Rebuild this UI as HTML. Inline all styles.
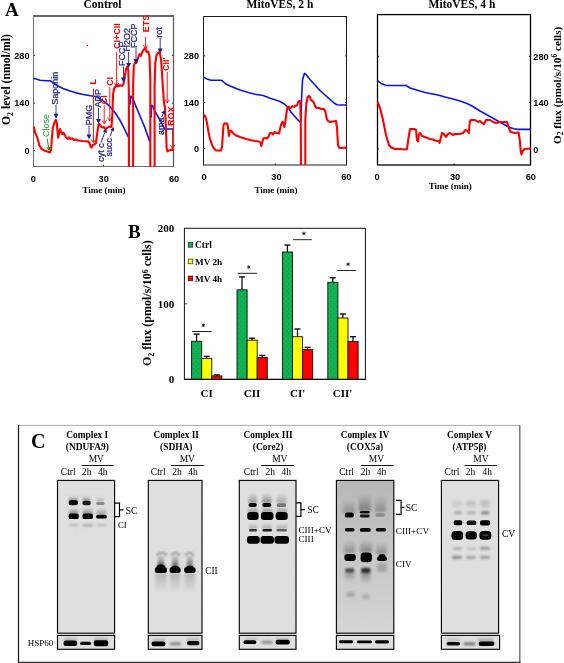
<!DOCTYPE html><html><head><meta charset="utf-8"><style>html,body{margin:0;padding:0;background:#fff;}svg{display:block;will-change:transform;}</style></head><body>
<svg width="564" height="663" viewBox="0 0 564 663">
<defs>
<filter id="b1" x="-50%" y="-100%" width="200%" height="300%"><feGaussianBlur stdDeviation="0.9"/></filter>
<filter id="b2" x="-50%" y="-100%" width="200%" height="300%"><feGaussianBlur stdDeviation="1.5"/></filter>
<filter id="b3" x="-50%" y="-100%" width="200%" height="300%"><feGaussianBlur stdDeviation="2.5"/></filter>
<pattern id="dots" width="5" height="5" patternUnits="userSpaceOnUse"><rect width="5" height="5" fill="#10b252"/><circle cx="1.2" cy="1.2" r="0.45" fill="#0a7035"/><circle cx="3.7" cy="3.7" r="0.45" fill="#0a7035"/></pattern>
<linearGradient id="g4" x1="0" y1="0" x2="0" y2="1"><stop offset="0" stop-color="#b4b4b4"/><stop offset="0.2" stop-color="#bababa"/><stop offset="0.5" stop-color="#c6c6c6"/><stop offset="1" stop-color="#d4d4d4"/></linearGradient>
</defs>
<rect x="0" y="0" width="564" height="663" fill="#fff" stroke="none" stroke-width="1" />
<text x="5" y="15.5" font-family='"Liberation Serif", serif' font-size="19" font-weight="bold" text-anchor="start" fill="#000" >A</text>
<text x="102.5" y="8" font-family='"Liberation Serif", serif' font-size="11.5" font-weight="bold" text-anchor="middle" fill="#000" >Control</text>
<text x="280" y="8" font-family='"Liberation Serif", serif' font-size="11.5" font-weight="bold" text-anchor="middle" fill="#000" >MitoVES, 2 h</text>
<text x="462" y="8" font-family='"Liberation Serif", serif' font-size="11.5" font-weight="bold" text-anchor="middle" fill="#000" >MitoVES, 4 h</text>
<rect x="33.5" y="16" width="140.0" height="150.5" fill="none" stroke="#707070" stroke-width="1" />
<line x1="33" y1="16" x2="174" y2="16" stroke="#6a6a6a" stroke-width="2" />
<line x1="173.5" y1="16" x2="173.5" y2="167" stroke="#606060" stroke-width="1.3" />
<rect x="203.5" y="16.5" width="143.0" height="148.5" fill="none" stroke="#1a1a1a" stroke-width="1" />
<rect x="377.5" y="14.6" width="153.0" height="150.4" fill="none" stroke="#000" stroke-width="1.3" />
<line x1="33.5" y1="150.5" x2="35.0" y2="150.5" stroke="#000" stroke-width="0.8" />
<line x1="171.8" y1="150.5" x2="173.3" y2="150.5" stroke="#000" stroke-width="0.8" />
<line x1="33.5" y1="103.1" x2="35.0" y2="103.1" stroke="#000" stroke-width="0.8" />
<line x1="171.8" y1="103.1" x2="173.3" y2="103.1" stroke="#000" stroke-width="0.8" />
<line x1="33.5" y1="55.3" x2="35.0" y2="55.3" stroke="#000" stroke-width="0.8" />
<line x1="171.8" y1="55.3" x2="173.3" y2="55.3" stroke="#000" stroke-width="0.8" />
<line x1="203.8" y1="148.6" x2="205.3" y2="148.6" stroke="#000" stroke-width="0.8" />
<line x1="345.0" y1="148.6" x2="346.5" y2="148.6" stroke="#000" stroke-width="0.8" />
<line x1="203.8" y1="102.4" x2="205.3" y2="102.4" stroke="#000" stroke-width="0.8" />
<line x1="345.0" y1="102.4" x2="346.5" y2="102.4" stroke="#000" stroke-width="0.8" />
<line x1="203.8" y1="55.9" x2="205.3" y2="55.9" stroke="#000" stroke-width="0.8" />
<line x1="345.0" y1="55.9" x2="346.5" y2="55.9" stroke="#000" stroke-width="0.8" />
<line x1="377.6" y1="148.8" x2="379.1" y2="148.8" stroke="#000" stroke-width="0.8" />
<line x1="528.9" y1="148.8" x2="530.4" y2="148.8" stroke="#000" stroke-width="0.8" />
<line x1="377.6" y1="102.3" x2="379.1" y2="102.3" stroke="#000" stroke-width="0.8" />
<line x1="528.9" y1="102.3" x2="530.4" y2="102.3" stroke="#000" stroke-width="0.8" />
<line x1="377.6" y1="56.3" x2="379.1" y2="56.3" stroke="#000" stroke-width="0.8" />
<line x1="528.9" y1="56.3" x2="530.4" y2="56.3" stroke="#000" stroke-width="0.8" />
<line x1="103.4" y1="164.70000000000002" x2="103.4" y2="166.3" stroke="#000" stroke-width="0.8" />
<line x1="275.2" y1="163.4" x2="275.2" y2="165" stroke="#000" stroke-width="0.8" />
<line x1="454" y1="163.4" x2="454" y2="165" stroke="#000" stroke-width="0.8" />
<text x="29.6" y="58.599999999999994" font-family='"Liberation Sans", sans-serif' font-size="9.2" font-weight="bold" text-anchor="end" fill="#000" >280</text>
<text x="29.6" y="106.39999999999999" font-family='"Liberation Sans", sans-serif' font-size="9.2" font-weight="bold" text-anchor="end" fill="#000" >140</text>
<text x="29.6" y="153.8" font-family='"Liberation Sans", sans-serif' font-size="9.2" font-weight="bold" text-anchor="end" fill="#000" >0</text>
<text x="199" y="59.199999999999996" font-family='"Liberation Sans", sans-serif' font-size="9.2" font-weight="bold" text-anchor="end" fill="#000" >280</text>
<text x="199" y="105.7" font-family='"Liberation Sans", sans-serif' font-size="9.2" font-weight="bold" text-anchor="end" fill="#000" >140</text>
<text x="199" y="151.9" font-family='"Liberation Sans", sans-serif' font-size="9.2" font-weight="bold" text-anchor="end" fill="#000" >0</text>
<text x="533.3" y="60.4" font-family='"Liberation Sans", sans-serif' font-size="9.2" font-weight="bold" text-anchor="start" fill="#000" >280</text>
<text x="533.3" y="106.39999999999999" font-family='"Liberation Sans", sans-serif' font-size="9.2" font-weight="bold" text-anchor="start" fill="#000" >140</text>
<text x="533.3" y="153.0" font-family='"Liberation Sans", sans-serif' font-size="9.2" font-weight="bold" text-anchor="start" fill="#000" >0</text>
<text x="33.3" y="181.9" font-family='"Liberation Sans", sans-serif' font-size="9.2" font-weight="bold" text-anchor="middle" fill="#000" >0</text>
<text x="103.7" y="181.9" font-family='"Liberation Sans", sans-serif' font-size="9.2" font-weight="bold" text-anchor="middle" fill="#000" >30</text>
<text x="174" y="181.9" font-family='"Liberation Sans", sans-serif' font-size="9.2" font-weight="bold" text-anchor="middle" fill="#000" >60</text>
<text x="204" y="179.9" font-family='"Liberation Sans", sans-serif' font-size="9.2" font-weight="bold" text-anchor="middle" fill="#000" >0</text>
<text x="276.4" y="179.9" font-family='"Liberation Sans", sans-serif' font-size="9.2" font-weight="bold" text-anchor="middle" fill="#000" >30</text>
<text x="346.3" y="179.9" font-family='"Liberation Sans", sans-serif' font-size="9.2" font-weight="bold" text-anchor="middle" fill="#000" >60</text>
<text x="377" y="179.8" font-family='"Liberation Sans", sans-serif' font-size="9.2" font-weight="bold" text-anchor="middle" fill="#000" >0</text>
<text x="455.1" y="179.8" font-family='"Liberation Sans", sans-serif' font-size="9.2" font-weight="bold" text-anchor="middle" fill="#000" >30</text>
<text x="530.8" y="179.8" font-family='"Liberation Sans", sans-serif' font-size="9.2" font-weight="bold" text-anchor="middle" fill="#000" >60</text>
<text x="104" y="192.5" font-family='"Liberation Serif", serif' font-size="9" font-weight="bold" text-anchor="middle" fill="#000" >Time (min)</text>
<text x="276" y="192.5" font-family='"Liberation Serif", serif' font-size="9" font-weight="bold" text-anchor="middle" fill="#000" >Time (min)</text>
<text x="450.2" y="189" font-family='"Liberation Serif", serif' font-size="9" font-weight="bold" text-anchor="middle" fill="#000" >Time (min)</text>
<text transform="translate(10.2,125) rotate(-90)" font-family='"Liberation Serif", serif' font-size="11.7" font-weight="bold">O<tspan font-size="7.8" dy="2.6">2</tspan><tspan dy="-2.6"> level (nmol/ml)</tspan></text>
<text transform="translate(560.6,144) rotate(-90)" font-family='"Liberation Serif", serif' font-size="11.2" font-weight="bold">O<tspan font-size="7.5" dy="2.6">2</tspan><tspan dy="-2.6"> flux (pmol/s/10</tspan><tspan font-size="7.5" dy="-3.4">6</tspan><tspan dy="3.4"> cells)</tspan></text>
<svg x="33.5" y="16" width="140" height="150.3" viewBox="33.5 16 140 150.3" overflow="hidden">
<polyline points="33.5,78.3 40.0,80.3 46.0,80.8 50.5,80.8 53.0,83.0 57.0,85.5 63.0,88.5 70.0,91.0 75.3,92.6 82.0,94.2 90.4,95.8 96.0,96.5 100.0,98.8 105.0,102.2 110.0,106.7 115.0,112.5 120.0,120.3 124.0,128.0 128.2,136.6" fill="none" stroke="#0a14f0" stroke-width="1.6" stroke-linejoin="round" stroke-linecap="round" />
<polyline points="130.4,104.0 130.6,96.3 131.8,96.6 133.3,100.0 135.0,104.0 140.0,116.0 145.0,128.0 149.6,141.2" fill="none" stroke="#0a14f0" stroke-width="1.6" stroke-linejoin="round" stroke-linecap="round" />
<polyline points="151.2,117.0 151.5,105.4 152.5,105.6 155.0,111.5 160.0,120.0 164.6,129.0 172.8,129.0" fill="none" stroke="#0a14f0" stroke-width="1.6" stroke-linejoin="round" stroke-linecap="round" />
<polyline points="34.0,127.4 35.1,132.7 37.3,137.7 39.4,145.5 41.5,149.0 44.3,150.4 47.2,151.5 50.0,152.4 51.1,149.7 51.8,138.4 52.9,127.7 54.3,122.8 55.8,119.9 56.8,122.8 57.5,131.3 58.2,137.7 59.1,133.4 60.0,129.1 61.0,132.0 62.2,134.1 63.5,132.7 64.9,135.5 66.3,137.7 67.8,139.1 69.2,137.3 70.6,139.1 72.4,138.4 74.0,140.0 76.0,139.5 78.0,140.5 82.0,141.0 88.0,141.5 89.5,143.0 90.5,146.5 91.5,147.5 93.0,145.0 95.0,144.0 96.0,143.0 97.0,135.0 98.5,124.5 99.5,124.0 101.0,126.5 102.5,127.5 104.0,127.0 105.5,129.5 107.0,128.0 108.5,127.0 110.0,126.5 111.5,127.0 112.5,112.0 113.0,95.0 114.0,88.5 115.5,86.5 117.0,84.5 118.0,86.5 120.0,85.3 122.0,86.0 123.5,84.0 124.8,76.0 126.0,69.0 127.3,66.7 128.3,70.0 128.9,95.0 128.9,170.0" fill="none" stroke="#ff0000" stroke-width="2.1" stroke-linejoin="round" stroke-linecap="round" />
<polyline points="133.1,170.0 133.1,85.0 133.8,66.0 135.0,62.5 136.5,62.8 138.0,58.0 139.5,54.0 140.8,56.0 142.3,52.0 143.8,49.5 145.3,48.0 146.5,52.0 148.0,51.5 149.5,56.0 150.3,80.0 150.3,170.0" fill="none" stroke="#ff0000" stroke-width="2.1" stroke-linejoin="round" stroke-linecap="round" />
<polyline points="154.6,170.0 154.6,85.0 155.3,63.0 156.5,55.0 158.4,52.4 160.0,53.5 161.0,59.0 162.0,73.0 163.0,90.0 164.0,103.0 165.0,108.0 165.8,125.0 166.6,148.0 167.5,151.5 169.0,150.5 173.0,149.5" fill="none" stroke="#ff0000" stroke-width="2.1" stroke-linejoin="round" stroke-linecap="round" />
</svg>
<rect x="87" y="45" width="1" height="1.3" fill="#f00"/>
<text x="49.3" y="137" font-family='"Liberation Sans", sans-serif' font-size="9" font-weight="normal" text-anchor="start" fill="#1a9a1a" transform="rotate(-90 49.3 137)" >Close</text>
<line x1="47.1" y1="138.6" x2="48.616021568267485" y2="147.16881755977275" stroke="#1a9a1a" stroke-width="1" />
<polygon points="46.25,147.59 50.98,146.75 49.4,151.6" fill="#1a9a1a"/>
<text x="58.3" y="104.8" font-family='"Liberation Sans", sans-serif' font-size="9" font-weight="normal" text-anchor="start" fill="#1e1e8a" transform="rotate(-90 58.3 104.8)" stroke="#1e1e8a" stroke-width="0.25">Saponin</text>
<line x1="56" y1="105" x2="56" y2="114.19999999999999" stroke="#1e1e8a" stroke-width="0.85" />
<polygon points="53.5,113.69999999999999 58.5,113.69999999999999 56,118.6" fill="#1e1e8a"/>
<text x="92.2" y="125.2" font-family='"Liberation Sans", sans-serif' font-size="9" font-weight="normal" text-anchor="start" fill="#1e1e8a" transform="rotate(-90 92.2 125.2)" stroke="#1e1e8a" stroke-width="0.25">PMG</text>
<line x1="89" y1="125.5" x2="89" y2="135.1" stroke="#1e1e8a" stroke-width="0.85" />
<polygon points="86.5,134.6 91.5,134.6 89,139.5" fill="#1e1e8a"/>
<text x="95.6" y="84.5" font-family='"Liberation Sans", sans-serif' font-size="9" font-weight="bold" text-anchor="start" fill="#ff0000" transform="rotate(-90 95.6 84.5)" >L</text>
<line x1="93.5" y1="88.6" x2="93.5" y2="142.8" stroke="#ff0000" stroke-width="0.9" />
<polyline points="91.3,139.3 93.5,142.8 95.7,139.3" fill="none" stroke="#ff0000" stroke-width="0.9"/>
<text x="101" y="107.6" font-family='"Liberation Sans", sans-serif' font-size="9" font-weight="normal" text-anchor="start" fill="#1e1e8a" transform="rotate(-90 101 107.6)" stroke="#1e1e8a" stroke-width="0.25">ADP</text>
<line x1="98.5" y1="108" x2="98.5" y2="119.39999999999999" stroke="#1e1e8a" stroke-width="0.85" />
<polygon points="96.0,118.89999999999999 101.0,118.89999999999999 98.5,123.8" fill="#1e1e8a"/>
<text x="107.1" y="104.2" font-family='"Liberation Sans", sans-serif' font-size="9" font-weight="bold" text-anchor="start" fill="#ff0000" transform="rotate(-90 107.1 104.2)" >CI</text>
<line x1="104.2" y1="105" x2="104.2" y2="123.8" stroke="#ff0000" stroke-width="0.9" />
<polyline points="102.0,120.3 104.2,123.8 106.4,120.3" fill="none" stroke="#ff0000" stroke-width="0.9"/>
<text x="113.2" y="86" font-family='"Liberation Sans", sans-serif' font-size="9" font-weight="bold" text-anchor="start" fill="#ff0000" transform="rotate(-90 113.2 86)" >CI</text>
<line x1="109.8" y1="87" x2="109.8" y2="121" stroke="#ff0000" stroke-width="0.9" />
<polyline points="107.6,117.5 109.8,121 112.0,117.5" fill="none" stroke="#ff0000" stroke-width="0.9"/>
<text x="103.7" y="161.8" font-family='"Liberation Sans", sans-serif' font-size="9" font-weight="normal" text-anchor="start" fill="#1e1e8a" transform="rotate(-90 103.7 161.8)" stroke="#1e1e8a" stroke-width="0.25">cyt c</text>
<line x1="101" y1="142.5" x2="104.88379989377805" y2="132.24090594096361" stroke="#1e1e8a" stroke-width="1" />
<polygon points="106.94,133.02 102.83,131.46 106.3,128.5" fill="#1e1e8a"/>
<text x="111.9" y="156.4" font-family='"Liberation Sans", sans-serif' font-size="9" font-weight="normal" text-anchor="start" fill="#1e1e8a" transform="rotate(-90 111.9 156.4)" stroke="#1e1e8a" stroke-width="0.25">succ</text>
<line x1="110" y1="136.5" x2="112.18257005654316" y2="130.7404401285667" stroke="#1e1e8a" stroke-width="1" />
<polygon points="114.24,131.52 110.13,129.96 113.6,127" fill="#1e1e8a"/>
<text x="120.2" y="49" font-family='"Liberation Sans", sans-serif' font-size="9" font-weight="bold" text-anchor="start" fill="#ff0000" transform="rotate(-90 120.2 49)" >CI+CII</text>
<line x1="116.6" y1="52" x2="116.6" y2="86.5" stroke="#ff0000" stroke-width="0.9" />
<polyline points="114.39999999999999,83.0 116.6,86.5 118.8,83.0" fill="none" stroke="#ff0000" stroke-width="0.9"/>
<text x="125.3" y="66" font-family='"Liberation Sans", sans-serif' font-size="9" font-weight="normal" text-anchor="start" fill="#1e1e8a" transform="rotate(-90 125.3 66)" stroke="#1e1e8a" stroke-width="0.25">FCCP</text>
<line x1="123.5" y1="66.5" x2="123.5" y2="78.1" stroke="#1e1e8a" stroke-width="0.85" />
<polygon points="121.0,77.6 126.0,77.6 123.5,82.5" fill="#1e1e8a"/>
<text x="130" y="51.6" font-family='"Liberation Sans", sans-serif' font-size="9" font-weight="normal" text-anchor="start" fill="#1e1e8a" transform="rotate(-90 130 51.6)" stroke="#1e1e8a" stroke-width="0.25">H2O2</text>
<line x1="128.6" y1="52" x2="128.6" y2="63.50000000000001" stroke="#1e1e8a" stroke-width="0.85" />
<polygon points="126.1,63.00000000000001 131.1,63.00000000000001 128.6,67.9" fill="#1e1e8a"/>
<text x="137.4" y="47.9" font-family='"Liberation Sans", sans-serif' font-size="9" font-weight="normal" text-anchor="start" fill="#1e1e8a" transform="rotate(-90 137.4 47.9)" stroke="#1e1e8a" stroke-width="0.25">FCCP</text>
<line x1="136" y1="48" x2="136" y2="59.6" stroke="#1e1e8a" stroke-width="0.85" />
<polygon points="133.5,59.1 138.5,59.1 136,64" fill="#1e1e8a"/>
<text x="149.2" y="32.2" font-family='"Liberation Sans", sans-serif' font-size="9" font-weight="bold" text-anchor="start" fill="#ff0000" transform="rotate(-90 149.2 32.2)" >ETS</text>
<line x1="145.6" y1="36.8" x2="145.6" y2="48.8" stroke="#ff0000" stroke-width="0.9" />
<polyline points="143.4,45.3 145.6,48.8 147.79999999999998,45.3" fill="none" stroke="#ff0000" stroke-width="0.9"/>
<text x="162.5" y="37.7" font-family='"Liberation Sans", sans-serif' font-size="9" font-weight="normal" text-anchor="start" fill="#1e1e8a" transform="rotate(-90 162.5 37.7)" stroke="#1e1e8a" stroke-width="0.25">rot</text>
<line x1="160.2" y1="38" x2="160.2" y2="49.0" stroke="#1e1e8a" stroke-width="0.85" />
<polygon points="157.7,48.5 162.7,48.5 160.2,53.4" fill="#1e1e8a"/>
<text x="169" y="71" font-family='"Liberation Sans", sans-serif' font-size="9" font-weight="bold" text-anchor="start" fill="#ff0000" transform="rotate(-90 169 71)" >CII'</text>
<line x1="167.2" y1="72" x2="167.2" y2="103" stroke="#ff0000" stroke-width="0.9" />
<polyline points="165.0,99.5 167.2,103 169.39999999999998,99.5" fill="none" stroke="#ff0000" stroke-width="0.9"/>
<text x="163.5" y="135" font-family='"Liberation Sans", sans-serif' font-size="9" font-weight="normal" text-anchor="start" fill="#1e1e8a" transform="rotate(-90 163.5 135)" stroke="#1e1e8a" stroke-width="0.25">ama</text>
<line x1="161.8" y1="117" x2="163.22432280568333" y2="113.67658012007223" stroke="#1e1e8a" stroke-width="1" />
<polygon points="165.25,114.54 161.20,112.81 164.8,110" fill="#1e1e8a"/>
<text x="173.5" y="126" font-family='"Liberation Sans", sans-serif' font-size="9" font-weight="bold" text-anchor="start" fill="#ff0000" transform="rotate(-90 173.5 126)" >ROX</text>
<line x1="172.5" y1="128" x2="172.5" y2="148.5" stroke="#ff0000" stroke-width="0.9" />
<polyline points="170.3,145.0 172.5,148.5 174.7,145.0" fill="none" stroke="#ff0000" stroke-width="0.9"/>
<svg x="203.8" y="16.3" width="142.7" height="148.7" viewBox="203.8 16.3 142.7 148.7" overflow="hidden">
<polyline points="204.0,77.4 207.0,79.0 211.0,80.2 221.0,80.2 223.0,81.5 226.0,84.0 230.0,86.0 235.0,88.0 240.0,90.0 245.0,91.6 250.0,93.0 255.0,94.2 260.0,95.0 263.0,95.5 267.0,97.0 270.0,98.3 275.0,99.8 280.0,101.5 285.0,104.5 288.0,107.5 291.0,112.0 294.0,115.5 297.0,119.0 300.3,122.2" fill="none" stroke="#0a14f0" stroke-width="1.6" stroke-linejoin="round" stroke-linecap="round" />
<polyline points="300.8,122.0 301.5,100.0 302.5,80.0 304.4,73.3 306.0,74.5 310.0,79.5 315.0,85.0 320.0,90.5 325.0,95.0 330.0,99.3 334.0,103.0 337.0,104.7 340.0,105.0 346.5,105.0" fill="none" stroke="#0a14f0" stroke-width="1.6" stroke-linejoin="round" stroke-linecap="round" />
<polyline points="204.0,115.0 205.5,117.0 207.0,123.0 208.5,132.0 210.0,139.0 212.0,145.0 214.0,148.5 216.0,150.5 218.0,150.5 221.0,150.5 222.0,147.0 222.8,135.0 223.5,125.0 224.5,123.3 226.0,123.5 227.5,124.0 228.3,130.0 229.0,136.0 229.8,131.0 231.0,130.5 232.0,132.0 234.0,134.0 236.0,135.5 240.0,137.0 243.0,138.0 246.0,139.0 250.0,140.0 255.0,141.0 259.0,141.5 260.5,142.5 261.3,146.0 262.3,142.0 263.3,138.5 265.0,138.0 267.0,138.5 268.5,136.5 270.0,133.0 271.5,133.0 273.0,134.5 274.5,132.0 276.5,133.0 279.0,133.5 281.0,125.0 282.5,121.8 283.5,123.0 284.3,127.0 285.3,122.0 286.5,113.0 287.3,107.8 288.5,106.5 289.5,108.3 291.0,107.5 292.5,106.0 294.0,107.0 295.5,105.5 297.0,105.5 298.5,101.5 299.5,100.8 300.3,102.0 300.8,125.0 301.0,170.0" fill="none" stroke="#ff0000" stroke-width="2.1" stroke-linejoin="round" stroke-linecap="round" />
<polyline points="305.3,170.0 305.3,120.0 306.3,104.0 307.5,97.5 308.8,95.8 310.0,97.0 310.8,100.0 312.3,100.7 313.5,102.0 315.0,106.0 316.5,108.0 319.0,108.0 321.0,109.0 324.0,109.0 325.5,112.0 326.5,118.0 328.0,121.0 330.0,122.0 333.0,121.5 336.0,121.0 337.0,128.0 338.0,145.0 339.5,148.0 342.0,148.0 346.5,147.5" fill="none" stroke="#ff0000" stroke-width="2.1" stroke-linejoin="round" stroke-linecap="round" />
</svg>
<svg x="377.6" y="14.8" width="152.8" height="150.2" viewBox="377.6 14.8 152.8 150.2" overflow="hidden">
<polyline points="378.0,81.0 381.0,83.5 385.0,85.0 388.0,85.5 400.0,85.5 406.0,85.5 410.0,88.0 415.0,89.5 420.0,91.0 425.0,92.5 430.0,93.5 438.0,95.0 445.0,97.0 450.0,98.3 455.0,99.5 460.0,101.0 467.0,103.5 472.0,106.0 480.0,111.0 490.0,116.5 497.0,120.5 505.0,125.0 510.0,127.5 514.0,128.8 517.5,129.4 530.5,129.4" fill="none" stroke="#0a14f0" stroke-width="1.6" stroke-linejoin="round" stroke-linecap="round" />
<polyline points="378.0,103.0 380.0,108.0 383.0,120.0 386.0,135.0 389.0,145.0 391.0,147.5 395.0,149.0 400.0,149.0 405.0,149.5 407.0,149.0 408.5,138.0 410.0,129.0 414.0,129.0 416.0,130.0 417.0,140.0 418.0,141.5 419.0,134.0 420.0,133.0 422.0,136.0 426.0,137.5 430.0,139.0 433.0,139.5 435.0,140.5 437.0,141.0 439.0,141.0 439.5,143.0 441.0,137.0 442.0,133.0 444.0,134.0 446.0,137.0 448.0,134.0 450.0,133.0 453.0,135.0 455.0,134.0 460.0,134.0 463.0,133.0 465.5,130.0 467.5,131.0 468.8,133.0 469.8,121.5 471.0,120.0 475.0,120.0 478.0,122.0 480.0,121.0 482.0,123.0 484.0,124.0 486.0,120.0 490.0,120.0 493.0,122.0 496.0,123.0 500.0,122.0 507.0,122.0 508.5,127.0 510.5,132.0 515.0,133.0 518.5,132.5 519.8,140.0 520.6,150.0 521.5,154.5 522.8,151.0 524.5,149.0 530.5,148.5" fill="none" stroke="#ff0000" stroke-width="2.1" stroke-linejoin="round" stroke-linecap="round" />
</svg>
<text x="128" y="237.5" font-family='"Liberation Serif", serif' font-size="19" font-weight="bold" text-anchor="start" fill="#000" >B</text>
<rect x="184.4" y="228.3" width="181" height="151.1" fill="none" stroke="#111" stroke-width="1" />
<line x1="184.4" y1="303.8" x2="187" y2="303.8" stroke="#111" stroke-width="0.8" />
<text x="174.2" y="232.4" font-family='"Liberation Serif", serif' font-size="11" font-weight="bold" text-anchor="end" fill="#000" >200</text>
<text x="174.2" y="308.0" font-family='"Liberation Serif", serif' font-size="11" font-weight="bold" text-anchor="end" fill="#000" >100</text>
<text x="174.2" y="383.40000000000003" font-family='"Liberation Serif", serif' font-size="11" font-weight="bold" text-anchor="end" fill="#000" >0</text>
<text transform="translate(151.3,366) rotate(-90)" font-family='"Liberation Serif", serif' font-size="12" font-weight="bold">O<tspan font-size="8" dy="2.7">2</tspan><tspan dy="-2.7"> flux (pmol/s/10</tspan><tspan font-size="8" dy="-3.6">6</tspan><tspan dy="3.6"> cells)</tspan></text>
<rect x="188.2" y="242.4" width="4.6" height="4.8" fill="#12b050" stroke="#111" stroke-width="0.6" />
<text x="195" y="248.0" font-family='"Liberation Serif", serif' font-size="9.5" font-weight="bold" text-anchor="start" fill="#000" >Ctrl</text>
<rect x="188.2" y="259.0" width="4.6" height="4.8" fill="#ffff00" stroke="#111" stroke-width="0.6" />
<text x="195" y="264.59999999999997" font-family='"Liberation Serif", serif' font-size="9.2" font-weight="bold" text-anchor="start" fill="#000" >MV 2h</text>
<rect x="188.2" y="276.0" width="4.6" height="4.8" fill="#ff0000" stroke="#111" stroke-width="0.6" />
<text x="195" y="281.59999999999997" font-family='"Liberation Serif", serif' font-size="9.2" font-weight="bold" text-anchor="start" fill="#000" >MV 4h</text>
<line x1="196.6" y1="334.1" x2="196.6" y2="341.3" stroke="#111" stroke-width="1.3" />
<line x1="193.6" y1="334.1" x2="199.6" y2="334.1" stroke="#111" stroke-width="1.4" />
<rect x="191.6" y="341.3" width="10.1" height="38.099999999999966" fill="url(#dots)" stroke="#111" stroke-width="0.9" />
<line x1="206.7" y1="356.4" x2="206.7" y2="358.5" stroke="#111" stroke-width="1.3" />
<line x1="203.7" y1="356.4" x2="209.7" y2="356.4" stroke="#111" stroke-width="1.4" />
<rect x="201.7" y="358.5" width="10.1" height="20.899999999999977" fill="#ffff00" stroke="#111" stroke-width="0.9" />
<line x1="216.79999999999998" y1="374.9" x2="216.79999999999998" y2="375.9" stroke="#111" stroke-width="1.3" />
<line x1="213.79999999999998" y1="374.9" x2="219.79999999999998" y2="374.9" stroke="#111" stroke-width="1.4" />
<rect x="211.79999999999998" y="375.9" width="10.1" height="3.5" fill="#ff0000" stroke="#111" stroke-width="0.9" />
<line x1="192" y1="331.5" x2="211.5" y2="331.5" stroke="#222" stroke-width="1" />
<line x1="203.25" y1="323.5" x2="203.25" y2="327.1" stroke="#111" stroke-width="0.9" />
<line x1="201.69" y1="324.4" x2="204.81" y2="326.2" stroke="#111" stroke-width="0.9" />
<line x1="201.69" y1="326.2" x2="204.81" y2="324.4" stroke="#111" stroke-width="0.9" />
<line x1="242.0" y1="276.9" x2="242.0" y2="289.8" stroke="#111" stroke-width="1.3" />
<line x1="239.0" y1="276.9" x2="245.0" y2="276.9" stroke="#111" stroke-width="1.4" />
<rect x="237.0" y="289.8" width="10.1" height="89.59999999999997" fill="url(#dots)" stroke="#111" stroke-width="0.9" />
<line x1="252.1" y1="338.2" x2="252.1" y2="340.2" stroke="#111" stroke-width="1.3" />
<line x1="249.1" y1="338.2" x2="255.1" y2="338.2" stroke="#111" stroke-width="1.4" />
<rect x="247.1" y="340.2" width="10.1" height="39.19999999999999" fill="#ffff00" stroke="#111" stroke-width="0.9" />
<line x1="262.2" y1="355.4" x2="262.2" y2="357.5" stroke="#111" stroke-width="1.3" />
<line x1="259.2" y1="355.4" x2="265.2" y2="355.4" stroke="#111" stroke-width="1.4" />
<rect x="257.2" y="357.5" width="10.1" height="21.899999999999977" fill="#ff0000" stroke="#111" stroke-width="0.9" />
<line x1="237.7" y1="273.3" x2="256.9" y2="273.3" stroke="#222" stroke-width="1" />
<line x1="248.8" y1="265.3" x2="248.8" y2="268.9" stroke="#111" stroke-width="0.9" />
<line x1="247.24" y1="266.2" x2="250.36" y2="268.0" stroke="#111" stroke-width="0.9" />
<line x1="247.24" y1="268.0" x2="250.36" y2="266.2" stroke="#111" stroke-width="0.9" />
<line x1="287.4" y1="245.1" x2="287.4" y2="252.0" stroke="#111" stroke-width="1.3" />
<line x1="284.4" y1="245.1" x2="290.4" y2="245.1" stroke="#111" stroke-width="1.4" />
<rect x="282.4" y="252.0" width="10.1" height="127.39999999999998" fill="url(#dots)" stroke="#111" stroke-width="0.9" />
<line x1="297.5" y1="329.0" x2="297.5" y2="336.7" stroke="#111" stroke-width="1.3" />
<line x1="294.5" y1="329.0" x2="300.5" y2="329.0" stroke="#111" stroke-width="1.4" />
<rect x="292.5" y="336.7" width="10.1" height="42.69999999999999" fill="#ffff00" stroke="#111" stroke-width="0.9" />
<line x1="307.59999999999997" y1="347.4" x2="307.59999999999997" y2="349.5" stroke="#111" stroke-width="1.3" />
<line x1="304.59999999999997" y1="347.4" x2="310.59999999999997" y2="347.4" stroke="#111" stroke-width="1.4" />
<rect x="302.59999999999997" y="349.5" width="10.1" height="29.899999999999977" fill="#ff0000" stroke="#111" stroke-width="0.9" />
<line x1="293" y1="239.7" x2="311.8" y2="239.7" stroke="#222" stroke-width="1" />
<line x1="303.9" y1="231.7" x2="303.9" y2="235.3" stroke="#111" stroke-width="0.9" />
<line x1="302.34" y1="232.6" x2="305.46" y2="234.4" stroke="#111" stroke-width="0.9" />
<line x1="302.34" y1="234.4" x2="305.46" y2="232.6" stroke="#111" stroke-width="0.9" />
<line x1="332.8" y1="277.7" x2="332.8" y2="282.3" stroke="#111" stroke-width="1.3" />
<line x1="329.8" y1="277.7" x2="335.8" y2="277.7" stroke="#111" stroke-width="1.4" />
<rect x="327.8" y="282.3" width="10.1" height="97.09999999999997" fill="url(#dots)" stroke="#111" stroke-width="0.9" />
<line x1="342.90000000000003" y1="314.0" x2="342.90000000000003" y2="318.0" stroke="#111" stroke-width="1.3" />
<line x1="339.90000000000003" y1="314.0" x2="345.90000000000003" y2="314.0" stroke="#111" stroke-width="1.4" />
<rect x="337.90000000000003" y="318.0" width="10.1" height="61.39999999999998" fill="#ffff00" stroke="#111" stroke-width="0.9" />
<line x1="353.0" y1="336.7" x2="353.0" y2="341.5" stroke="#111" stroke-width="1.3" />
<line x1="350.0" y1="336.7" x2="356.0" y2="336.7" stroke="#111" stroke-width="1.4" />
<rect x="348.0" y="341.5" width="10.1" height="37.89999999999998" fill="#ff0000" stroke="#111" stroke-width="0.9" />
<line x1="337.2" y1="270.5" x2="355.9" y2="270.5" stroke="#222" stroke-width="1" />
<line x1="348.05" y1="262.5" x2="348.05" y2="266.1" stroke="#111" stroke-width="0.9" />
<line x1="346.49" y1="263.4" x2="349.61" y2="265.2" stroke="#111" stroke-width="0.9" />
<line x1="346.49" y1="265.2" x2="349.61" y2="263.4" stroke="#111" stroke-width="0.9" />
<line x1="184.4" y1="379.4" x2="365.4" y2="379.4" stroke="#111" stroke-width="1.2" />
<text x="206.6" y="396.5" font-family='"Liberation Serif", serif' font-size="11" font-weight="bold" text-anchor="middle" fill="#000" >CI</text>
<text x="252" y="396.5" font-family='"Liberation Serif", serif' font-size="11" font-weight="bold" text-anchor="middle" fill="#000" >CII</text>
<text x="297.7" y="396.5" font-family='"Liberation Serif", serif' font-size="11" font-weight="bold" text-anchor="middle" fill="#000" >CI'</text>
<text x="342.6" y="396.5" font-family='"Liberation Serif", serif' font-size="11" font-weight="bold" text-anchor="middle" fill="#000" >CII'</text>
<defs>
<pattern id="ht" width="2.4" height="2.4" patternUnits="userSpaceOnUse"><rect width="2.4" height="2.4" fill="#dadada"/><circle cx="0.6" cy="0.6" r="0.62" fill="#e7e7e7"/><circle cx="1.8" cy="1.8" r="0.62" fill="#e7e7e7"/></pattern>
<linearGradient id="sm" x1="0" y1="0" x2="0" y2="1"><stop offset="0" stop-color="#000" stop-opacity="0"/><stop offset="1" stop-color="#000" stop-opacity="1"/></linearGradient>
<linearGradient id="smd" x1="0" y1="0" x2="0" y2="1"><stop offset="0" stop-color="#000" stop-opacity="1"/><stop offset="1" stop-color="#000" stop-opacity="0"/></linearGradient>
<filter id="c0" x="-50%" y="-100%" width="200%" height="300%"><feGaussianBlur stdDeviation="0.7"/></filter>
<filter id="c1" x="-50%" y="-100%" width="200%" height="300%"><feGaussianBlur stdDeviation="1.1"/></filter>
<filter id="c2" x="-50%" y="-100%" width="200%" height="300%"><feGaussianBlur stdDeviation="1.8"/></filter>
</defs>
<line x1="18.5" y1="425.4" x2="520" y2="425.4" stroke="#aaa" stroke-width="1" />
<line x1="18.5" y1="425" x2="18.5" y2="663" stroke="#111" stroke-width="1.2" />
<line x1="519.8" y1="425" x2="519.8" y2="663" stroke="#777" stroke-width="1.5" />
<line x1="18" y1="662.3" x2="520.5" y2="662.3" stroke="#333" stroke-width="1.2" />
<text x="31" y="448" font-family='"Liberation Serif", serif' font-size="20" font-weight="bold" text-anchor="start" fill="#000" >C</text>
<text x="87.3" y="438.3" font-family='"Liberation Serif", serif' font-size="9.4" font-weight="bold" text-anchor="middle" fill="#000" >Complex I</text>
<text x="87.3" y="449.5" font-family='"Liberation Serif", serif' font-size="9.4" font-weight="bold" text-anchor="middle" fill="#000" >(NDUFA9)</text>
<text x="96.3" y="461.5" font-family='"Liberation Serif", serif' font-size="9.5" font-weight="normal" text-anchor="middle" fill="#000" >MV</text>
<line x1="81.6" y1="465.5" x2="113.8" y2="465.5" stroke="#111" stroke-width="1" />
<text x="68.2" y="474.8" font-family='"Liberation Serif", serif' font-size="9.5" font-weight="normal" text-anchor="middle" fill="#000" >Ctrl</text>
<text x="86.8" y="474.8" font-family='"Liberation Serif", serif' font-size="9.5" font-weight="normal" text-anchor="middle" fill="#000" >2h</text>
<text x="102.8" y="474.8" font-family='"Liberation Serif", serif' font-size="9.5" font-weight="normal" text-anchor="middle" fill="#000" >4h</text>
<rect x="57.5" y="480.4" width="57.099999999999994" height="152.8" fill="url(#ht)" stroke="none" stroke-width="1" />
<rect x="57.5" y="480.4" width="57.099999999999994" height="152.8" fill="none" stroke="#080808" stroke-width="1.15" />
<rect x="57.5" y="635.4" width="57.099999999999994" height="13.9" fill="url(#ht)" stroke="#080808" stroke-width="1.15" />
<text x="176.2" y="438.3" font-family='"Liberation Serif", serif' font-size="9.4" font-weight="bold" text-anchor="middle" fill="#000" >Complex II</text>
<text x="176.2" y="449.5" font-family='"Liberation Serif", serif' font-size="9.4" font-weight="bold" text-anchor="middle" fill="#000" >(SDHA)</text>
<text x="187.3" y="461.5" font-family='"Liberation Serif", serif' font-size="9.5" font-weight="normal" text-anchor="middle" fill="#000" >MV</text>
<line x1="171" y1="465.5" x2="203.8" y2="465.5" stroke="#111" stroke-width="1" />
<text x="158.2" y="474.8" font-family='"Liberation Serif", serif' font-size="9.5" font-weight="normal" text-anchor="middle" fill="#000" >Ctrl</text>
<text x="176.9" y="474.8" font-family='"Liberation Serif", serif' font-size="9.5" font-weight="normal" text-anchor="middle" fill="#000" >2h</text>
<text x="192.9" y="474.8" font-family='"Liberation Serif", serif' font-size="9.5" font-weight="normal" text-anchor="middle" fill="#000" >4h</text>
<rect x="148.3" y="480.4" width="53.69999999999999" height="152.8" fill="url(#ht)" stroke="none" stroke-width="1" />
<rect x="148.3" y="480.4" width="53.69999999999999" height="152.8" fill="none" stroke="#080808" stroke-width="1.15" />
<rect x="148.3" y="635.4" width="53.69999999999999" height="13.9" fill="url(#ht)" stroke="#080808" stroke-width="1.15" />
<text x="268.1" y="438.3" font-family='"Liberation Serif", serif' font-size="9.4" font-weight="bold" text-anchor="middle" fill="#000" >Complex III</text>
<text x="268.1" y="449.5" font-family='"Liberation Serif", serif' font-size="9.4" font-weight="bold" text-anchor="middle" fill="#000" >(Core2)</text>
<text x="279.8" y="461.5" font-family='"Liberation Serif", serif' font-size="9.5" font-weight="normal" text-anchor="middle" fill="#000" >MV</text>
<line x1="261.2" y1="465.5" x2="294.1" y2="465.5" stroke="#111" stroke-width="1" />
<text x="251.2" y="474.8" font-family='"Liberation Serif", serif' font-size="9.5" font-weight="normal" text-anchor="middle" fill="#000" >Ctrl</text>
<text x="270.2" y="474.8" font-family='"Liberation Serif", serif' font-size="9.5" font-weight="normal" text-anchor="middle" fill="#000" >2h</text>
<text x="286.2" y="474.8" font-family='"Liberation Serif", serif' font-size="9.5" font-weight="normal" text-anchor="middle" fill="#000" >4h</text>
<rect x="239.3" y="480.4" width="56.69999999999999" height="152.8" fill="url(#ht)" stroke="none" stroke-width="1" />
<rect x="239.3" y="480.4" width="56.69999999999999" height="152.8" fill="none" stroke="#080808" stroke-width="1.15" />
<rect x="239.3" y="635.4" width="56.69999999999999" height="13.9" fill="url(#ht)" stroke="#080808" stroke-width="1.15" />
<text x="365.0" y="438.3" font-family='"Liberation Serif", serif' font-size="9.4" font-weight="bold" text-anchor="middle" fill="#000" >Complex IV</text>
<text x="365.0" y="449.5" font-family='"Liberation Serif", serif' font-size="9.4" font-weight="bold" text-anchor="middle" fill="#000" >(COX5a)</text>
<text x="376.4" y="461.5" font-family='"Liberation Serif", serif' font-size="9.5" font-weight="normal" text-anchor="middle" fill="#000" >MV</text>
<line x1="360.9" y1="465.5" x2="393.8" y2="465.5" stroke="#111" stroke-width="1" />
<text x="346.6" y="474.8" font-family='"Liberation Serif", serif' font-size="9.5" font-weight="normal" text-anchor="middle" fill="#000" >Ctrl</text>
<text x="365.5" y="474.8" font-family='"Liberation Serif", serif' font-size="9.5" font-weight="normal" text-anchor="middle" fill="#000" >2h</text>
<text x="381.6" y="474.8" font-family='"Liberation Serif", serif' font-size="9.5" font-weight="normal" text-anchor="middle" fill="#000" >4h</text>
<rect x="336.4" y="480.4" width="57.400000000000034" height="152.8" fill="url(#ht)" stroke="none" stroke-width="1" />
<rect x="336.4" y="480.4" width="57.400000000000034" height="152.8" fill="url(#g4)" stroke="none" stroke-width="1" opacity="0.92"/>
<rect x="336.4" y="480.4" width="57.400000000000034" height="152.8" fill="none" stroke="#080808" stroke-width="1.15" />
<rect x="336.4" y="635.4" width="57.400000000000034" height="13.9" fill="url(#ht)" stroke="#080808" stroke-width="1.15" />
<text x="469.5" y="438.3" font-family='"Liberation Serif", serif' font-size="9.4" font-weight="bold" text-anchor="middle" fill="#000" >Complex V</text>
<text x="469.5" y="449.5" font-family='"Liberation Serif", serif' font-size="9.4" font-weight="bold" text-anchor="middle" fill="#000" >(ATP5&#946;)</text>
<text x="480.9" y="461.5" font-family='"Liberation Serif", serif' font-size="9.5" font-weight="normal" text-anchor="middle" fill="#000" >MV</text>
<line x1="464.7" y1="465.5" x2="497" y2="465.5" stroke="#111" stroke-width="1" />
<text x="452" y="474.8" font-family='"Liberation Serif", serif' font-size="9.5" font-weight="normal" text-anchor="middle" fill="#000" >Ctrl</text>
<text x="470.5" y="474.8" font-family='"Liberation Serif", serif' font-size="9.5" font-weight="normal" text-anchor="middle" fill="#000" >2h</text>
<text x="487.2" y="474.8" font-family='"Liberation Serif", serif' font-size="9.5" font-weight="normal" text-anchor="middle" fill="#000" >4h</text>
<rect x="441.4" y="480.4" width="57.200000000000045" height="152.8" fill="url(#ht)" stroke="none" stroke-width="1" />
<rect x="441.4" y="480.4" width="57.200000000000045" height="152.8" fill="none" stroke="#080808" stroke-width="1.15" />
<rect x="441.4" y="635.4" width="58.200000000000045" height="13.9" fill="url(#ht)" stroke="#080808" stroke-width="1.15" />
<rect x="69.10" y="496.00" width="8.40" height="5.50" fill="url(#sm)" opacity="0.45" filter="url(#c1)"/>
<rect x="82.90" y="496.00" width="7.40" height="5.50" fill="url(#sm)" opacity="0.4" filter="url(#c1)"/>
<rect x="96.60" y="496.00" width="7.50" height="5.50" fill="url(#sm)" opacity="0.2" filter="url(#c1)"/>
<rect x="69.10" y="508.00" width="9.20" height="6.50" fill="url(#sm)" opacity="0.45" filter="url(#c1)"/>
<rect x="82.90" y="508.00" width="9.60" height="6.50" fill="url(#sm)" opacity="0.45" filter="url(#c1)"/>
<rect x="96.60" y="508.00" width="9.70" height="6.50" fill="url(#sm)" opacity="0.3" filter="url(#c1)"/>
<rect x="68.60" y="500.30" width="9.40" height="4.90" rx="2.20" fill="#000" opacity="1" filter="url(#c0)"/>
<rect x="82.40" y="500.80" width="8.40" height="4.40" rx="2.20" fill="#1a1a1a" opacity="1" filter="url(#c0)"/>
<rect x="96.10" y="502.00" width="8.50" height="3.00" rx="1.50" fill="#8a8a8a" opacity="1" filter="url(#c0)"/>
<rect x="68.60" y="513.60" width="10.20" height="5.50" rx="2.20" fill="#000" opacity="1" filter="url(#c0)"/>
<rect x="82.40" y="513.60" width="10.60" height="5.50" rx="2.20" fill="#000" opacity="1" filter="url(#c0)"/>
<rect x="96.10" y="514.80" width="10.70" height="3.70" rx="1.85" fill="#000" opacity="1" filter="url(#c0)"/>
<rect x="68.50" y="524.00" width="10.00" height="2.30" rx="1.15" fill="#bcbcbc" opacity="1" filter="url(#c1)"/>
<rect x="82.50" y="524.00" width="10.00" height="2.50" rx="1.25" fill="#a8a8a8" opacity="1" filter="url(#c1)"/>
<rect x="96.50" y="524.00" width="10.00" height="2.30" rx="1.15" fill="#c0c0c0" opacity="1" filter="url(#c1)"/>
<rect x="63.50" y="640.60" width="13.70" height="5.40" rx="2.20" fill="#000" opacity="1" filter="url(#c0)"/>
<rect x="80.00" y="641.80" width="11.10" height="3.20" rx="1.60" fill="#111" opacity="1" filter="url(#c0)"/>
<rect x="93.70" y="640.30" width="14.50" height="6.00" rx="2.20" fill="#000" opacity="1" filter="url(#c0)"/>
<rect x="64.00" y="636.50" width="13.00" height="4.50" fill="url(#sm)" opacity="0.25" filter="url(#c1)"/>
<rect x="94.00" y="636.50" width="14.00" height="4.50" fill="url(#sm)" opacity="0.3" filter="url(#c1)"/>
<path d="M156.3,555.6 Q161.65,549.2 167,555.6" fill="none" stroke="#8a8a8a" stroke-width="1.5" filter="url(#c1)"/>
<path d="M170.9,555.6 Q175.55,549.2 180.2,555.6" fill="none" stroke="#8a8a8a" stroke-width="1.5" filter="url(#c1)"/>
<path d="M185,555.6 Q189.45,549.2 193.9,555.6" fill="none" stroke="#8a8a8a" stroke-width="1.5" filter="url(#c1)"/>
<path d="M155.8,569 L158.9,562 L162.9,562 L166,569 Z" fill="url(#sm)" opacity="1" filter="url(#c1)"/>
<rect x="157.90" y="554.00" width="6.00" height="11.00" fill="url(#sm)" opacity="0.45" filter="url(#c1)"/>
<rect x="154.80" y="567.30" width="12.20" height="5.60" rx="2.60" fill="#000" opacity="1" filter="url(#c0)"/>
<ellipse cx="160.9" cy="567.6" rx="4.2" ry="3.2" fill="#000" filter="url(#c0)"/>
<rect x="155.30" y="573.00" width="11.20" height="19.00" fill="url(#smd)" opacity="0.2" filter="url(#c2)"/>
<path d="M170.5,569 L173.1,563 L177.1,563 L179.7,569 Z" fill="url(#sm)" opacity="0.85" filter="url(#c1)"/>
<rect x="172.10" y="554.00" width="6.00" height="11.00" fill="url(#sm)" opacity="0.45" filter="url(#c1)"/>
<rect x="169.50" y="567.30" width="11.20" height="5.60" rx="2.60" fill="#000" opacity="1" filter="url(#c0)"/>
<ellipse cx="175.1" cy="567.6" rx="3.4" ry="2.2" fill="#000" filter="url(#c0)"/>
<rect x="170.00" y="573.00" width="10.20" height="19.00" fill="url(#smd)" opacity="0.2" filter="url(#c2)"/>
<path d="M185.1,569 L187.85,563.5 L191.85,563.5 L194.6,569 Z" fill="url(#sm)" opacity="0.8" filter="url(#c1)"/>
<rect x="186.85" y="554.00" width="6.00" height="11.00" fill="url(#sm)" opacity="0.45" filter="url(#c1)"/>
<rect x="184.10" y="567.30" width="11.50" height="5.60" rx="2.60" fill="#000" opacity="1" filter="url(#c0)"/>
<ellipse cx="189.85" cy="567.6" rx="3.4" ry="2.2" fill="#000" filter="url(#c0)"/>
<rect x="184.60" y="573.00" width="10.50" height="19.00" fill="url(#smd)" opacity="0.2" filter="url(#c2)"/>
<rect x="151.50" y="641.40" width="14.00" height="4.80" rx="2.20" fill="#000" opacity="1" filter="url(#c0)"/>
<rect x="170.00" y="642.30" width="11.00" height="3.20" rx="1.60" fill="#8c8c8c" opacity="1" filter="url(#c1)"/>
<rect x="187.00" y="640.90" width="12.50" height="4.40" rx="2.20" fill="#0a0a0a" opacity="1" filter="url(#c0)"/>
<rect x="152.00" y="637.00" width="13.00" height="5.00" fill="url(#sm)" opacity="0.25" filter="url(#c1)"/>
<rect x="187.00" y="636.50" width="12.00" height="5.00" fill="url(#sm)" opacity="0.25" filter="url(#c1)"/>
<rect x="248.50" y="493.00" width="8.30" height="10.00" fill="url(#sm)" opacity="0.35" filter="url(#c1)"/>
<rect x="262.30" y="493.00" width="9.10" height="10.00" fill="url(#sm)" opacity="0.4" filter="url(#c1)"/>
<rect x="276.70" y="493.00" width="9.60" height="10.00" fill="url(#sm)" opacity="0.25" filter="url(#c1)"/>
<rect x="248.20" y="506.50" width="9.40" height="6.00" fill="url(#sm)" opacity="0.35" filter="url(#c1)"/>
<rect x="262.00" y="506.50" width="10.50" height="6.00" fill="url(#sm)" opacity="0.35" filter="url(#c1)"/>
<rect x="276.60" y="506.50" width="10.10" height="6.00" fill="url(#sm)" opacity="0.35" filter="url(#c1)"/>
<rect x="248.50" y="502.90" width="8.30" height="4.20" rx="2.10" fill="#000" opacity="1" filter="url(#c0)"/>
<rect x="262.30" y="502.90" width="9.10" height="4.20" rx="2.10" fill="#000" opacity="1" filter="url(#c0)"/>
<rect x="276.70" y="503.30" width="9.60" height="3.80" rx="1.90" fill="#777" opacity="1" filter="url(#c0)"/>
<rect x="247.20" y="511.90" width="11.40" height="8.00" rx="3.00" fill="#000" opacity="1" filter="url(#c0)"/>
<rect x="261.00" y="511.90" width="12.50" height="8.00" rx="3.00" fill="#000" opacity="1" filter="url(#c0)"/>
<rect x="275.60" y="511.90" width="12.10" height="8.00" rx="3.00" fill="#000" opacity="1" filter="url(#c0)"/>
<rect x="249.00" y="528.90" width="8.00" height="2.70" rx="1.35" fill="#3a3a3a" opacity="1" filter="url(#c0)"/>
<rect x="262.50" y="528.90" width="9.50" height="2.70" rx="1.35" fill="#1e1e1e" opacity="1" filter="url(#c0)"/>
<rect x="276.50" y="528.90" width="10.50" height="2.70" rx="1.35" fill="#666" opacity="1" filter="url(#c0)"/>
<rect x="249.00" y="523.00" width="8.00" height="6.00" fill="url(#sm)" opacity="0.25" filter="url(#c1)"/>
<rect x="262.50" y="523.00" width="9.50" height="6.00" fill="url(#sm)" opacity="0.25" filter="url(#c1)"/>
<rect x="276.50" y="523.00" width="10.50" height="6.00" fill="url(#sm)" opacity="0.25" filter="url(#c1)"/>
<rect x="246.90" y="535.90" width="12.80" height="7.90" rx="3.00" fill="#000" opacity="1" filter="url(#c0)"/>
<rect x="260.50" y="535.90" width="13.50" height="7.90" rx="3.00" fill="#000" opacity="1" filter="url(#c0)"/>
<rect x="274.50" y="535.90" width="14.50" height="7.90" rx="3.00" fill="#000" opacity="1" filter="url(#c0)"/>
<rect x="243.50" y="640.30" width="12.80" height="3.70" rx="1.85" fill="#000" opacity="1" filter="url(#c0)"/>
<rect x="261.40" y="640.80" width="11.40" height="3.00" rx="1.50" fill="#8a8a8a" opacity="1" filter="url(#c1)"/>
<rect x="275.60" y="639.80" width="14.20" height="4.60" rx="2.20" fill="#000" opacity="1" filter="url(#c0)"/>
<rect x="245.00" y="636.50" width="12.00" height="4.00" fill="url(#sm)" opacity="0.2" filter="url(#c1)"/>
<rect x="276.00" y="636.50" width="14.00" height="4.00" fill="url(#sm)" opacity="0.25" filter="url(#c1)"/>
<rect x="343.00" y="500.00" width="12.00" height="13.00" fill="url(#sm)" opacity="0.25" filter="url(#c2)"/>
<rect x="359.00" y="494.00" width="12.00" height="17.00" fill="url(#sm)" opacity="0.35" filter="url(#c2)"/>
<rect x="375.00" y="496.00" width="11.00" height="16.00" fill="url(#sm)" opacity="0.25" filter="url(#c2)"/>
<rect x="344.80" y="512.50" width="9.00" height="5.10" rx="2.20" fill="#000" opacity="1" filter="url(#c0)"/>
<rect x="359.90" y="511.00" width="9.80" height="2.40" rx="1.20" fill="#111" opacity="1" filter="url(#c0)"/>
<rect x="359.90" y="514.60" width="9.80" height="2.80" rx="1.40" fill="#151515" opacity="1" filter="url(#c0)"/>
<rect x="375.40" y="513.30" width="9.40" height="3.50" rx="1.75" fill="#8c8c8c" opacity="1" filter="url(#c0)"/>
<rect x="344.80" y="528.10" width="9.80" height="3.50" rx="1.75" fill="#0a0a0a" opacity="1" filter="url(#c0)"/>
<rect x="359.90" y="528.00" width="11.00" height="3.80" rx="1.90" fill="#000" opacity="1" filter="url(#c0)"/>
<rect x="375.70" y="528.10" width="10.60" height="3.50" rx="1.75" fill="#111" opacity="1" filter="url(#c0)"/>
<rect x="344.00" y="540.00" width="11.00" height="13.00" fill="url(#sm)" opacity="0.3" filter="url(#c2)"/>
<rect x="360.00" y="540.00" width="12.00" height="12.00" fill="url(#sm)" opacity="0.35" filter="url(#c2)"/>
<rect x="376.00" y="542.00" width="11.00" height="12.00" fill="url(#sm)" opacity="0.3" filter="url(#c2)"/>
<rect x="344.30" y="553.90" width="11.50" height="7.00" rx="3.00" fill="#000" opacity="1" filter="url(#c0)"/>
<rect x="360.60" y="552.40" width="11.30" height="9.80" rx="3.50" fill="#000" opacity="1" filter="url(#c0)"/>
<rect x="377.00" y="556.50" width="10.00" height="4.50" rx="2.20" fill="#000" opacity="1" filter="url(#c0)"/>
<ellipse cx="382" cy="557" rx="3.6" ry="3" fill="#000" filter="url(#c0)"/>
<rect x="345.00" y="568.30" width="9.50" height="4.50" rx="2.20" fill="#4a4a4a" opacity="1" filter="url(#c1)"/>
<rect x="361.00" y="567.80" width="9.50" height="5.50" rx="2.20" fill="#333" opacity="1" filter="url(#c1)"/>
<rect x="377.00" y="563.00" width="10.00" height="9.00" rx="2.20" fill="#a4a4a4" opacity="1" filter="url(#c2)"/>
<rect x="345.00" y="573.00" width="9.50" height="9.00" fill="url(#smd)" opacity="0.25" filter="url(#c2)"/>
<rect x="361.00" y="573.00" width="9.50" height="11.00" fill="url(#smd)" opacity="0.3" filter="url(#c2)"/>
<rect x="346.00" y="592.00" width="9.00" height="5.00" rx="2.20" fill="#a6a6a6" opacity="1" filter="url(#c2)"/>
<rect x="362.00" y="594.00" width="8.00" height="5.00" rx="2.20" fill="#aaaaaa" opacity="1" filter="url(#c2)"/>
<rect x="339.00" y="640.30" width="14.00" height="2.90" rx="1.45" fill="#000" opacity="1" filter="url(#c0)"/>
<rect x="357.00" y="640.50" width="15.00" height="2.80" rx="1.40" fill="#000" opacity="1" filter="url(#c0)"/>
<rect x="375.00" y="640.30" width="14.00" height="3.10" rx="1.55" fill="#000" opacity="1" filter="url(#c0)"/>
<rect x="452.00" y="500.50" width="10.00" height="6.00" rx="2.20" fill="#cccccc" opacity="1" filter="url(#c2)"/>
<rect x="466.00" y="500.40" width="10.00" height="6.60" rx="2.20" fill="#c4c4c4" opacity="1" filter="url(#c2)"/>
<rect x="480.50" y="500.00" width="9.00" height="7.00" rx="2.20" fill="#bdbdbd" opacity="1" filter="url(#c2)"/>
<rect x="454.30" y="511.30" width="7.40" height="3.00" rx="1.50" fill="#a4a4a4" opacity="1" filter="url(#c1)"/>
<rect x="467.00" y="511.30" width="9.00" height="3.00" rx="1.50" fill="#acacac" opacity="1" filter="url(#c1)"/>
<rect x="480.70" y="511.10" width="8.80" height="3.40" rx="1.70" fill="#929292" opacity="1" filter="url(#c1)"/>
<rect x="453.60" y="520.30" width="8.80" height="5.00" rx="2.20" fill="#000" opacity="1" filter="url(#c0)"/>
<rect x="466.50" y="520.50" width="9.90" height="4.60" rx="2.20" fill="#111" opacity="1" filter="url(#c0)"/>
<rect x="480.00" y="520.20" width="10.20" height="5.20" rx="2.20" fill="#000" opacity="1" filter="url(#c0)"/>
<rect x="451.50" y="530.90" width="11.60" height="9.00" rx="3.50" fill="#000" opacity="1" filter="url(#c0)"/>
<rect x="465.50" y="531.30" width="11.40" height="8.20" rx="3.50" fill="#000" opacity="1" filter="url(#c0)"/>
<rect x="479.40" y="531.00" width="11.90" height="8.80" rx="3.50" fill="#000" opacity="1" filter="url(#c0)"/>
<rect x="482.50" y="534.60" width="6.00" height="1.20" rx="0.60" fill="#555" opacity="1" filter="url(#c0)"/>
<rect x="453.00" y="547.20" width="9.00" height="2.60" rx="1.30" fill="#a6a6a6" opacity="1" filter="url(#c1)"/>
<rect x="467.00" y="547.20" width="9.00" height="2.60" rx="1.30" fill="#c0c0c0" opacity="1" filter="url(#c1)"/>
<rect x="480.00" y="546.80" width="10.00" height="3.00" rx="1.50" fill="#999" opacity="1" filter="url(#c1)"/>
<rect x="452.00" y="555.70" width="10.00" height="3.30" rx="1.65" fill="#8e8e8e" opacity="1" filter="url(#c1)"/>
<rect x="466.00" y="555.70" width="10.00" height="3.30" rx="1.65" fill="#a4a4a4" opacity="1" filter="url(#c1)"/>
<rect x="480.00" y="555.70" width="10.00" height="3.30" rx="1.65" fill="#9e9e9e" opacity="1" filter="url(#c1)"/>
<rect x="446.50" y="641.90" width="13.70" height="3.60" rx="1.80" fill="#111" opacity="1" filter="url(#c0)"/>
<rect x="463.50" y="642.40" width="11.90" height="2.80" rx="1.40" fill="#6a6a6a" opacity="1" filter="url(#c1)"/>
<rect x="478.60" y="641.50" width="15.90" height="4.50" rx="2.20" fill="#000" opacity="1" filter="url(#c0)"/>
<rect x="447.00" y="636.50" width="13.00" height="5.50" fill="url(#sm)" opacity="0.2" filter="url(#c1)"/>
<rect x="478.00" y="636.50" width="15.00" height="5.50" fill="url(#sm)" opacity="0.3" filter="url(#c1)"/>
<polyline points="114.8,503.2 119.5,503.2 119.5,516.6 114.8,516.6" fill="none" stroke="#000" stroke-width="1.2"/>
<line x1="119.5" y1="509.9" x2="123.5" y2="509.9" stroke="#000" stroke-width="1.2" />
<text x="125.8" y="514.2" font-family='"Liberation Serif", serif' font-size="9.5" font-weight="normal" text-anchor="start" fill="#000" >SC</text>
<text x="117.9" y="527.8" font-family='"Liberation Serif", serif' font-size="8.8" font-weight="normal" text-anchor="start" fill="#000" >CI</text>
<text x="205.2" y="574.2" font-family='"Liberation Serif", serif' font-size="9.3" font-weight="normal" text-anchor="start" fill="#000" >CII</text>
<polyline points="296.2,502.9 300.9,502.9 300.9,516.4 296.2,516.4" fill="none" stroke="#000" stroke-width="1.2"/>
<line x1="300.9" y1="509.65" x2="304.9" y2="509.65" stroke="#000" stroke-width="1.2" />
<text x="307.3" y="512.7" font-family='"Liberation Serif", serif' font-size="9.5" font-weight="normal" text-anchor="start" fill="#000" >SC</text>
<text x="298.4" y="533" font-family='"Liberation Serif", serif' font-size="9.2" font-weight="normal" text-anchor="start" fill="#000" >CIII+CV</text>
<text x="298.4" y="542.3" font-family='"Liberation Serif", serif' font-size="9.2" font-weight="normal" text-anchor="start" fill="#000" >CIII</text>
<polyline points="395.9,500.4 401.09999999999997,500.4 401.09999999999997,514.4 395.9,514.4" fill="none" stroke="#000" stroke-width="1.2"/>
<line x1="401.09999999999997" y1="507.4" x2="404.49999999999994" y2="507.4" stroke="#000" stroke-width="1.2" />
<text x="405.7" y="510.9" font-family='"Liberation Serif", serif' font-size="9.5" font-weight="normal" text-anchor="start" fill="#000" >SC</text>
<text x="395.8" y="534" font-family='"Liberation Serif", serif' font-size="9.2" font-weight="normal" text-anchor="start" fill="#000" >CIII+CV</text>
<text x="395.8" y="566.5" font-family='"Liberation Serif", serif' font-size="9.2" font-weight="normal" text-anchor="start" fill="#000" >CIV</text>
<text x="501.9" y="536.8" font-family='"Liberation Serif", serif' font-size="9.5" font-weight="normal" text-anchor="start" fill="#000" >CV</text>
<text x="27.7" y="646.2" font-family='"Liberation Serif", serif' font-size="9" font-weight="normal" text-anchor="start" fill="#000" >HSP60</text>
</svg></body></html>
